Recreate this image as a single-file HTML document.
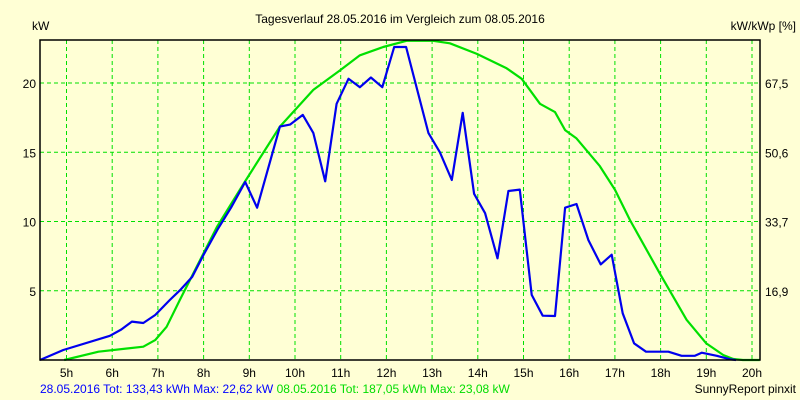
<!DOCTYPE html>
<html><head><meta charset="utf-8"><style>
body{margin:0;background:#FFFFD5;}
svg{display:block;font-family:"Liberation Sans",sans-serif;font-size:12px;}
</style></head><body>
<svg id="chart" width="800" height="400" xmlns="http://www.w3.org/2000/svg">
<rect x="0" y="0" width="800" height="400" fill="#FFFFD5"/>
<text x="400" y="23" text-anchor="middle" fill="#000">Tagesverlauf 28.05.2016 im Vergleich zum 08.05.2016</text>
<text x="32" y="30" fill="#000">kW</text>
<text x="796" y="30" text-anchor="end" fill="#000">kW/kWp [%]</text>
<g id="grid"></g>
<g id="axes"></g>
<g id="series"></g>
<rect x="40" y="40" width="720" height="320" fill="none" stroke="#000" stroke-width="1.5"/>
<text x="40" y="393" fill="#0000FF">28.05.2016 Tot: 133,43 kWh Max: 22,62 kW <tspan fill="#00DD00">08.05.2016 Tot: 187,05 kWh Max: 23,08 kW</tspan></text>
<text x="796" y="393" text-anchor="end" fill="#000">SunnyReport pinxit</text>
</svg>
<script>
const hourTicks=[5,6,7,8,9,10,11,12,13,14,15,16,17,18,19,20];
const yTicks=[5,10,15,20];
const rightTickLabels=["16,9","33,7","50,6","67,5"];
const blueHours=[4.42,4.93,5.95,6.2,6.43,6.68,6.94,7.26,7.5,7.75,8.0,8.32,8.6,8.91,9.17,9.67,9.89,10.17,10.4,10.66,10.91,11.17,11.42,11.66,11.91,12.17,12.43,12.92,13.17,13.43,13.67,13.92,14.16,14.43,14.67,14.92,15.18,15.42,15.69,15.91,16.16,16.42,16.69,16.93,17.17,17.42,17.68,18.17,18.46,18.75,18.9,19.23,19.52,19.65];
const blueValues=[0,0.72,1.75,2.2,2.77,2.67,3.25,4.33,5.1,6.0,7.6,9.5,11.0,12.85,11.0,16.85,17.0,17.7,16.4,12.9,18.5,20.3,19.7,20.4,19.7,22.6,22.6,16.4,15.0,13.0,17.85,12.0,10.6,7.34,12.2,12.3,4.7,3.2,3.18,11.0,11.26,8.66,6.9,7.6,3.37,1.2,0.6,0.6,0.3,0.3,0.53,0.3,0.05,0];
const greenHours=[4.95,5.7,6.68,6.94,7.19,7.48,8.29,8.9,9.67,10.4,10.98,11.42,11.93,12.44,13.02,13.39,13.98,14.63,14.96,15.36,15.69,15.91,16.16,16.67,17.0,17.33,17.98,18.57,19.0,19.37,19.59,19.8,20.17];
const greenValues=[0,0.6,0.96,1.44,2.4,4.33,9.6,12.85,16.85,19.5,20.9,22.0,22.6,23.05,23.05,22.87,22.1,21.06,20.3,18.5,17.9,16.6,16.0,14.0,12.3,10.1,6.26,2.9,1.2,0.36,0.07,0,0];
const NS="http://www.w3.org/2000/svg";
function xs(h){return 66.5+(h-5)*45.7;}
function ys(v){return 360-v*13.85;}
const grid=document.getElementById('grid'),axes=document.getElementById('axes'),series=document.getElementById('series');
hourTicks.forEach(h=>{
  const l=document.createElementNS(NS,'line');
  
  
  l.setAttribute('x1',xs(h));l.setAttribute('x2',xs(h));l.setAttribute('y1',40);l.setAttribute('y2',360);
  l.setAttribute('stroke','#00E000');l.setAttribute('stroke-dasharray','4,3');
  grid.appendChild(l);
  const t=document.createElementNS(NS,'text');
  
  
  t.setAttribute('x',xs(h));t.setAttribute('y',377);t.setAttribute('text-anchor','middle');
  t.textContent=h+'h';axes.appendChild(t);
});
yTicks.forEach((v,i)=>{
  const l=document.createElementNS(NS,'line');
  
  
  l.setAttribute('x1',40);l.setAttribute('x2',760);l.setAttribute('y1',ys(v));l.setAttribute('y2',ys(v));
  l.setAttribute('stroke','#00E000');l.setAttribute('stroke-dasharray','4,3');
  grid.appendChild(l);
  const t=document.createElementNS(NS,'text');
  
  
  t.setAttribute('x',36);t.setAttribute('y',ys(v)+5);t.setAttribute('text-anchor','end');
  t.textContent=v;axes.appendChild(t);
  const r=document.createElementNS(NS,'text');
  
  
  r.setAttribute('x',765);r.setAttribute('y',ys(v)+5);
  r.textContent=rightTickLabels[i];axes.appendChild(r);
});
function line(hs,vs,color,name){
  const p=document.createElementNS(NS,'polyline');
  
  
  p.setAttribute('points',hs.map((h,i)=>xs(h).toFixed(1)+','+ys(vs[i]).toFixed(1)).join(' '));
  p.setAttribute('fill','none');p.setAttribute('stroke',color);p.setAttribute('stroke-width','2.2');
  p.setAttribute('stroke-linejoin','round');
  series.appendChild(p);
}
line(greenHours,greenValues,'#00E000','series-08-05-2016');
line(blueHours,blueValues,'#0000EE','series-28-05-2016');
</script>
</body></html>
